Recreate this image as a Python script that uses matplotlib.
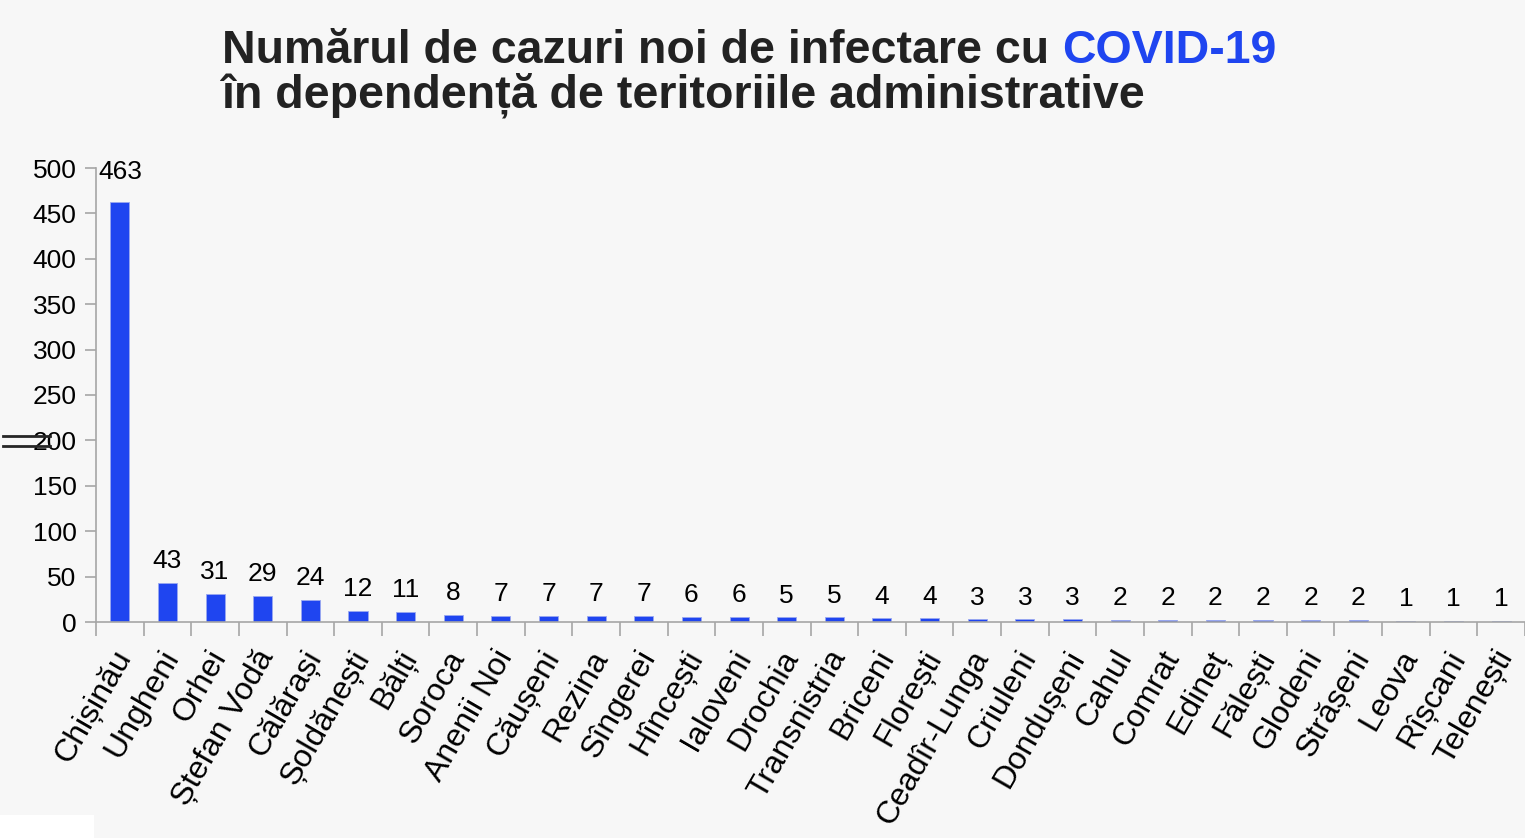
import matplotlib.pyplot as plt
from matplotlib.lines import Line2D
from matplotlib.patches import Rectangle
from matplotlib.transforms import ScaledTranslation

# Data
raioane = ["Chișinău", "Ungheni", "Orhei", "Ștefan Vodă", "Călărași", "Șoldănești",
           "Bălți", "Soroca", "Anenii Noi", "Căușeni", "Rezina", "Sîngerei", "Hîncești",
           "Ialoveni", "Drochia", "Transnistria", "Briceni", "Florești", "Ceadîr-Lunga",
           "Criuleni", "Dondușeni", "Cahul", "Comrat", "Edineț", "Fălești", "Glodeni",
           "Strășeni", "Leova", "Rîșcani", "Telenești"]
cazuri = [463, 43, 31, 29, 24, 12, 11, 8, 7, 7, 7, 7, 6, 6, 5, 5, 4, 4, 3, 3, 3,
          2, 2, 2, 2, 2, 2, 1, 1, 1]
y_ticks = [0, 50, 100, 150, 200, 250, 300, 350, 400, 450, 500]

BG = "#f7f7f7"
BLUE = "#1f45f0"
GREY = "#a6a6a6"

plt.rcParams['font.family'] = ['Liberation Sans', 'DejaVu Sans']

fig = plt.figure(figsize=(15.25, 8.38), dpi=100, facecolor=BG)
ax = fig.add_axes([96/1525, 1 - 622/838, 1 - 96/1525, (622 - 168)/838])
ax.set_facecolor(BG)

n = len(raioane)
x = list(range(n))
ax.bar(x, cazuri, width=0.4, color=BLUE, edgecolor="#9aa8f0", linewidth=0.6)

# value labels, a fixed gap above each bar (the tall one sits a bit higher)
for i, v in enumerate(cazuri):
    gap = 13 if v == max(cazuri) else 7
    ax.annotate(str(v), (i, v), xytext=(0, gap), textcoords="offset points",
                ha="center", va="bottom", fontsize=19, color="black")

ax.set_xlim(-0.5, n - 0.5)
ax.set_ylim(0, 500)
ax.set_yticks(y_ticks)
ax.tick_params(axis="y", labelsize=19, length=8, color=GREY, width=1.2, pad=6)

# x ticks at category boundaries, labels at centers
ax.set_xticks([i - 0.5 for i in range(n + 1)])
ax.set_xticklabels([])
ax.tick_params(axis="x", length=10, color=GREY, width=1.2)
ax.set_xticks(x, minor=True)
ax.set_xticklabels(raioane, minor=True, rotation=60, ha="right", va="center",
                   rotation_mode="anchor", fontsize=23)
ax.tick_params(axis="x", which="minor", length=0, pad=22)
shift = ScaledTranslation(5/100, 0, fig.dpi_scale_trans)
for lbl in ax.get_xticklabels(minor=True):
    lbl.set_transform(lbl.get_transform() + shift)

for s in ["top", "right"]:
    ax.spines[s].set_visible(False)
for s in ["left", "bottom"]:
    ax.spines[s].set_color(GREY)
    ax.spines[s].set_linewidth(1.2)
ax.spines["left"].set_bounds(0, 500)

# title in two colours
t1 = fig.text(222/1525, 1 - 63/838, "Numărul de cazuri noi de infectare cu ",
              fontsize=33.5, fontweight="bold", color="#222222", va="baseline")
fig.canvas.draw()
bb = t1.get_window_extent()
fig.text(bb.x1 / fig.bbox.width, 1 - 63/838, "COVID-19",
         fontsize=33.5, fontweight="bold", color=BLUE, va="baseline")
fig.text(222/1525, 1 - 108/838, "în dependență de teritoriile administrative",
         fontsize=33.5, fontweight="bold", color="#222222", va="baseline")

# break mark near 200 on the y axis
for yy in (436, 446):
    fig.add_artist(Line2D([3/1525, 50/1525], [1 - yy/838, 1 - yy/838],
                          color="#262626", linewidth=2))

# white block in the bottom-left corner
fig.add_artist(Rectangle((0, 0), 94/1525, 23/838, transform=fig.transFigure,
                         facecolor="white", edgecolor="none"))

fig.savefig("out.png", dpi=100, facecolor=BG)
